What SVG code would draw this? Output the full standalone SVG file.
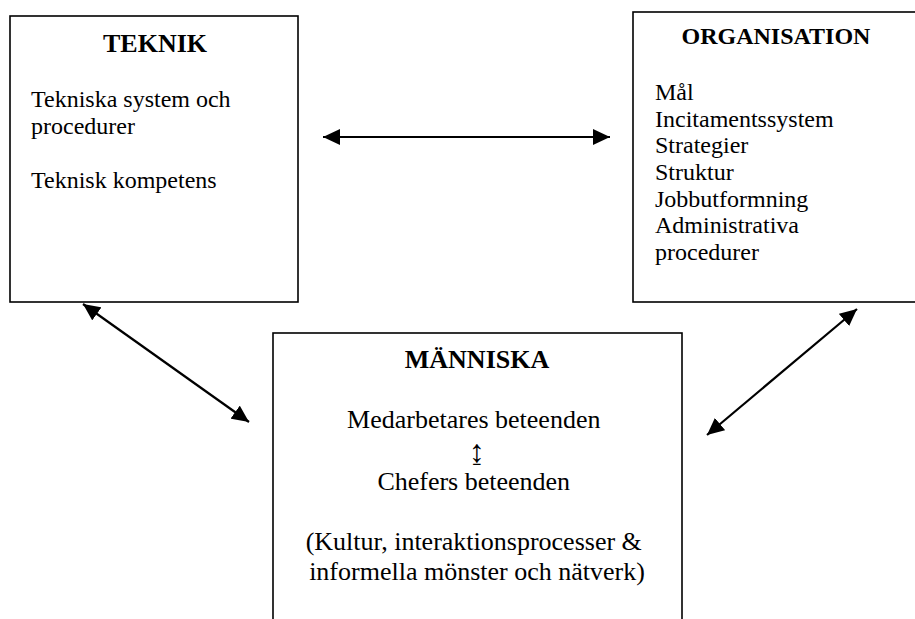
<svg xmlns="http://www.w3.org/2000/svg" width="915" height="619" viewBox="0 0 915 619">
  <style>
    .box { fill: #ffffff; stroke: #000000; stroke-width: 1.6; }
    .title { font-family: "Liberation Serif", "Times New Roman", serif; font-weight: bold; fill: #000000; }
    .body { font-family: "Liberation Serif", "Times New Roman", serif; fill: #000000; }
    .link { stroke: #000000; stroke-width: 2.2; fill: none; marker-start: url(#head); marker-end: url(#head); }
  </style>
  <defs>
    <marker id="head" viewBox="0 0 17 16" refX="17" refY="8" markerWidth="17" markerHeight="16" markerUnits="userSpaceOnUse" orient="auto-start-reverse">
      <path d="M0,0 L17,8 L0,16 z" fill="#000000"/>
    </marker>
  </defs>
  <rect width="915" height="619" fill="#ffffff"/>

  <!-- Technology -->
  <g id="teknik">
    <rect class="box" x="10" y="16" width="288" height="286"/>
    <text class="title" x="155" y="52" font-size="26" text-anchor="middle">TEKNIK</text>
    <text class="body" font-size="24">
      <tspan x="31" y="107">Tekniska system och</tspan>
      <tspan x="31" y="134">procedurer</tspan>
      <tspan x="31" y="188">Teknisk kompetens</tspan>
    </text>
  </g>

  <!-- Organisation -->
  <g id="organisation">
    <rect class="box" x="633" y="12" width="290" height="290"/>
    <text class="title" x="776" y="44" font-size="24" text-anchor="middle">ORGANISATION</text>
    <text class="body" font-size="24">
      <tspan x="655" y="100">Mål</tspan>
      <tspan x="655" y="127">Incitamentssystem</tspan>
      <tspan x="655" y="153">Strategier</tspan>
      <tspan x="655" y="180">Struktur</tspan>
      <tspan x="655" y="207">Jobbutformning</tspan>
      <tspan x="655" y="233">Administrativa</tspan>
      <tspan x="655" y="260">procedurer</tspan>
    </text>
  </g>

  <!-- People -->
  <g id="manniska">
    <rect class="box" x="273" y="333" width="409" height="300"/>
    <text class="title" x="477" y="368" font-size="26" text-anchor="middle">MÄNNISKA</text>
    <text class="body" font-size="26" text-anchor="middle">
      <tspan x="477" y="428">Medarbetares beteenden</tspan>
      <tspan x="477" y="490">Chefers beteenden</tspan>
      <tspan x="477" y="550">(Kultur, interaktionsprocesser &amp;</tspan>
      <tspan x="477" y="580">informella mönster och nätverk)</tspan>
    </text>
    <text class="body" x="477" y="462" font-size="32" text-anchor="middle">↨</text>
  </g>

  <!-- Two-way relations -->
  <g id="connectors">
    <line class="link" x1="323" y1="137" x2="610" y2="137"/>
    <line class="link" x1="83" y1="304" x2="249" y2="422"/>
    <line class="link" x1="857" y1="309" x2="707" y2="435"/>
  </g>
</svg>
